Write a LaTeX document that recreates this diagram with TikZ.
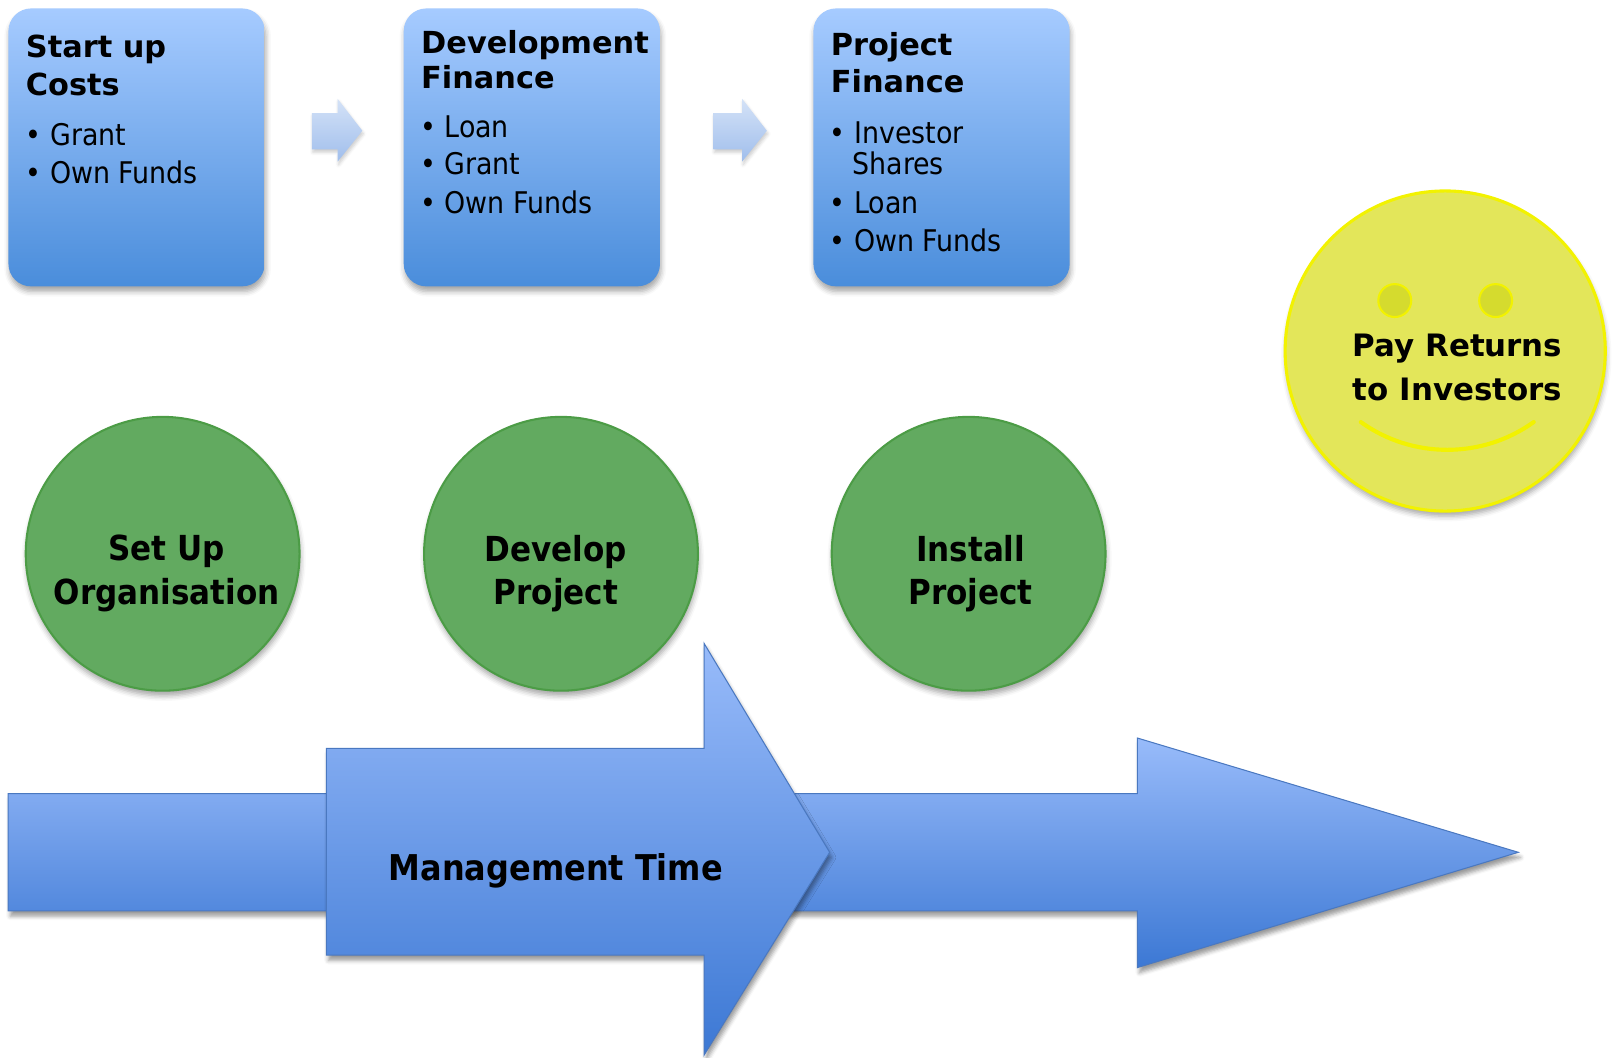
\documentclass[tikz,border=0pt]{standalone}
\usepackage{fontspec}
\setmainfont{DejaVu Sans}
\newfontfamily\condfont{DejaVu Sans Condensed}
\usetikzlibrary{shadows.blur}
\definecolor{boxtop}{HTML}{A6CBFF}
\definecolor{boxbot}{HTML}{4A8DDB}
\definecolor{satop}{HTML}{D4E2F7}
\definecolor{sabot}{HTML}{A0BEEC}
\definecolor{gfill}{HTML}{62AA60}
\definecolor{gline}{HTML}{4C9C46}
\definecolor{yfill}{HTML}{E3E65A}
\definecolor{yline}{HTML}{F2F200}
\definecolor{eyefill}{HTML}{D5DB2E}
\definecolor{artop}{HTML}{98BBFA}
\definecolor{arbot}{HTML}{3C78D4}
\definecolor{arline}{HTML}{4A78C0}
\begin{document}
\begin{tikzpicture}[x=1pt,y=-1pt,
  softshadow/.style={blur shadow={shadow xshift=1pt, shadow yshift=-5pt, shadow blur radius=5pt, shadow opacity=35}},
  finbox/.style={rounded corners=22pt, top color=boxtop, bottom color=boxbot, draw=none, inner sep=0pt,
    minimum width=249pt, minimum height=270pt, anchor=north west, softshadow},
  head/.style={font=\fontsize{29.5}{35}\selectfont\bfseries, inner sep=0pt, anchor=base west},
  bul/.style={font=\condfont\fontsize{29}{36}\selectfont, inner sep=0pt, anchor=base west},
  smallarrow/.style={top color=satop, bottom color=sabot, draw=none, blur shadow={shadow xshift=1pt, shadow yshift=-3pt, shadow blur radius=3pt, shadow opacity=20}},
  gcirc/.style={circle, minimum size=266pt, inner sep=0pt, fill=gfill, draw=gline, line width=2pt, softshadow},
  ctext/.style={font=\condfont\fontsize{33.5}{42}\selectfont\bfseries, align=center, inner sep=0pt},
  ycirc/.style={circle, minimum size=311pt, inner sep=0pt, fill=yfill, draw=yline, line width=3pt, softshadow},
  eyeball/.style={circle, minimum size=32pt, inner sep=0pt, fill=eyefill, draw=yline, line width=2pt},
  bigarrow/.style={top color=artop, bottom color=arbot, draw=arline, line width=1pt,
    blur shadow={shadow xshift=2pt, shadow yshift=-5pt, shadow blur radius=4pt, shadow opacity=40}}
]
\useasboundingbox (0,0) rectangle (1568,1027);

% finance boxes
\node[finbox] (b1) at (8,8) {};
\node[finbox] (b2) at (392,8) {};
\node[finbox] (b3) at (790,8) {};

\node[head] (b1h1) at (25,56) {Start up};
\node[head] (b1h2) at (25,93) {Costs};
\node[bul] (b1l1) at (25,141) {• Grant};
\node[bul] (b1l2) at (25,178) {• Own Funds};

\node[head] (b2h1) at (409,52) {Development};
\node[head] (b2h2) at (409,86) {Finance};
\node[bul] (b2l1) at (408,134) {• Loan};
\node[bul] (b2l2) at (408,170) {• Grant};
\node[bul] (b2l3) at (408,207) {• Own Funds};

\node[head] (b3h1) at (807,54) {Project};
\node[head] (b3h2) at (807,90) {Finance};
\node[bul] (b3l1) at (806,139) {• Investor};
\node[bul] (b3l1b) at (828,170) {Shares};
\node[bul] (b3l2) at (806,207) {• Loan};
\node[bul] (b3l3) at (806,244) {• Own Funds};

% small arrows
\path[smallarrow] (303,110) -- (328,110) -- (328,96) -- (352,127) -- (328,157) -- (328,145) -- (303,145) -- cycle;
\path[smallarrow] (693,110) -- (721,110) -- (721,96) -- (745,127) -- (721,157) -- (721,145) -- (693,145) -- cycle;

% green circles
\node[gcirc] (c1) at (158,538) {};
\node[gcirc] (c2) at (545,538) {};
\node[gcirc] (c3) at (941,538) {};
\node[ctext] (t1) at (162,557) {Set Up\\Organisation};
\node[ctext] (t2) at (540,557) {Develop\\Project};
\node[ctext] (t3) at (943,557) {Install\\Project};

% smiley
\node[ycirc] (face) at (1404,341) {};
\node[eyeball] (eyeL) at (1355,292) {};
\node[eyeball] (eyeR) at (1453,292) {};
\draw[yline, line width=4pt, line cap=round] (1322,410) .. controls (1372,446) and (1440,446) .. (1490,410);
\node[font=\fontsize{30}{42}\selectfont\bfseries, align=center, inner sep=0pt] (pay) at (1416,357) {Pay Returns\\to Investors};

% management time arrows
\path[bigarrow] (8,771) -- (1105,771) -- (1105,717) -- (1475,828) -- (1105,940) -- (1105,885) -- (8,885) -- cycle;
\path[bigarrow] (317,727) -- (684,727) -- (684,625) -- (806,828) -- (684,1025) -- (684,928) -- (317,928) -- cycle;
\node[font=\condfont\fontsize{34.5}{40}\selectfont\bfseries, inner sep=0pt] (mt) at (540,846) {Management Time};
\end{tikzpicture}
\end{document}
